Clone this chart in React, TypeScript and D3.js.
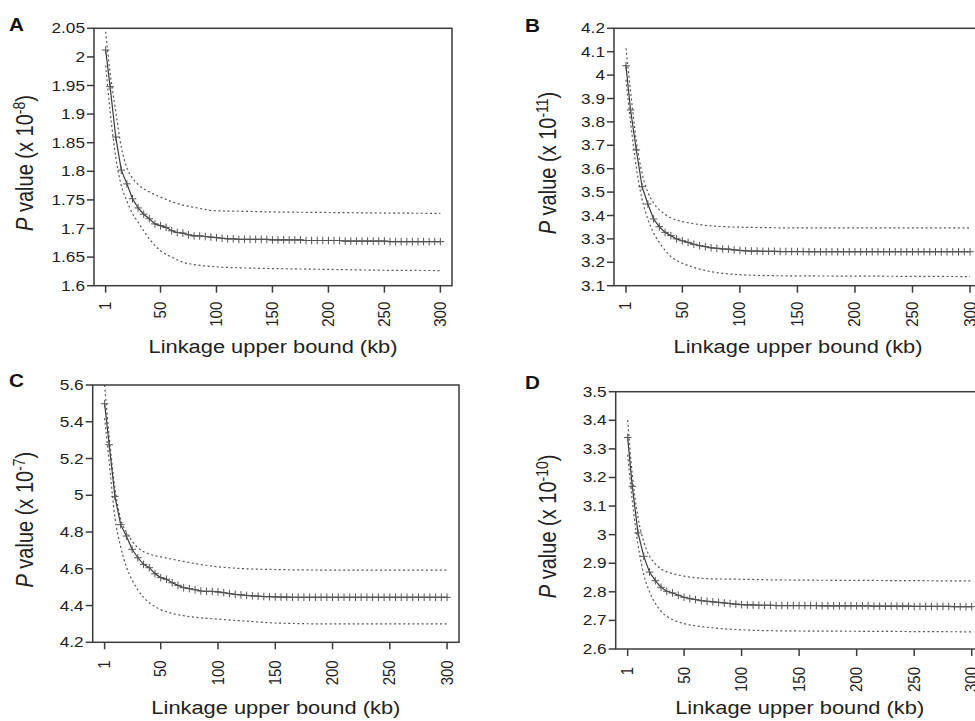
import React from "react";
import * as d3 from "d3";

// ---------- data ----------
const KB = [1, 5, 10, 15, 20, 25, 30, 35, 40, 45, 50, 55, 60, 65, 70, 75, 80, 85, 90, 95,
  100, 105, 110, 115, 120, 125, 130, 135, 140, 145, 150, 155, 160, 165, 170, 175, 180, 185, 190, 195,
  200, 205, 210, 215, 220, 225, 230, 235, 240, 245, 250, 255, 260, 265, 270, 275, 280, 285, 290, 295, 300];
const BAND_KB = [1, 5, 10, 15, 20, 25, 30, 40, 50, 60, 70, 80, 100, 125, 150, 200, 250, 300];
const X_TICKS = [1, 50, 100, 150, 200, 250, 300];

const A_MAIN = [2.012, 1.948, 1.860, 1.802, 1.778, 1.752, 1.736, 1.725, 1.717, 1.708,
  1.705, 1.702, 1.696, 1.693, 1.692, 1.689, 1.687, 1.687, 1.686, 1.685,
  1.684, 1.683, 1.682, 1.682, 1.681, 1.681, 1.681, 1.681, 1.681, 1.681,
  1.680, 1.680, 1.680, 1.680, 1.680, 1.680, 1.679, 1.679, 1.679, 1.679,
  1.679, 1.679, 1.679, 1.678, 1.678, 1.678, 1.678, 1.678, 1.678, 1.678,
  1.678, 1.677, 1.677, 1.677, 1.677, 1.677, 1.677, 1.677, 1.677, 1.677, 1.677];
const A_UPPER = [2.044, 1.972, 1.905, 1.842, 1.806, 1.788, 1.777, 1.764, 1.755, 1.747, 1.741, 1.737, 1.731, 1.730, 1.729, 1.728, 1.727, 1.7265];
const A_LOWER = [1.985, 1.905, 1.825, 1.775, 1.748, 1.726, 1.711, 1.682, 1.661, 1.650, 1.641, 1.637, 1.633, 1.631, 1.630, 1.6285, 1.627, 1.6265];
const A_Y_TICKS = [1.6, 1.65, 1.7, 1.75, 1.8, 1.85, 1.9, 1.95, 2, 2.05];

const B_MAIN = [4.040, 3.851, 3.680, 3.523, 3.449, 3.385, 3.352, 3.328, 3.314, 3.300,
  3.292, 3.285, 3.277, 3.271, 3.267, 3.262, 3.260, 3.257, 3.256, 3.253,
  3.251, 3.249, 3.248, 3.248, 3.247, 3.247, 3.247, 3.246, 3.246, 3.246,
  3.246, 3.246, 3.245, 3.245, 3.245, 3.245, 3.245, 3.245, 3.245, 3.245,
  3.245, 3.245, 3.245, 3.245, 3.245, 3.245, 3.245, 3.245, 3.245, 3.245,
  3.245, 3.245, 3.245, 3.245, 3.245, 3.245, 3.245, 3.245, 3.245, 3.245, 3.245];
const B_UPPER = [4.115, 3.930, 3.720, 3.580, 3.500, 3.453, 3.425, 3.390, 3.374, 3.365, 3.358, 3.354, 3.350, 3.348, 3.347, 3.347, 3.347, 3.347];
const B_LOWER = [3.980, 3.800, 3.605, 3.470, 3.385, 3.325, 3.285, 3.225, 3.196, 3.178, 3.165, 3.156, 3.147, 3.143, 3.142, 3.141, 3.140, 3.139];
const B_Y_TICKS = [3.1, 3.2, 3.3, 3.4, 3.5, 3.6, 3.7, 3.8, 3.9, 4, 4.1, 4.2];

const C_MAIN = [5.498, 5.275, 4.994, 4.840, 4.778, 4.706, 4.660, 4.624, 4.606, 4.573,
  4.552, 4.543, 4.524, 4.510, 4.497, 4.492, 4.486, 4.479, 4.477, 4.477,
  4.474, 4.470, 4.465, 4.461, 4.458, 4.455, 4.453, 4.451, 4.449, 4.448,
  4.447, 4.446, 4.446, 4.445, 4.445, 4.445, 4.445, 4.445, 4.445, 4.445,
  4.445, 4.445, 4.445, 4.445, 4.445, 4.445, 4.445, 4.445, 4.445, 4.445,
  4.445, 4.445, 4.445, 4.445, 4.445, 4.445, 4.445, 4.445, 4.445, 4.445, 4.445];
const C_UPPER = [5.600, 5.320, 5.040, 4.870, 4.800, 4.750, 4.715, 4.680, 4.665, 4.652, 4.640, 4.628, 4.611, 4.600, 4.596, 4.593, 4.593, 4.593];
const C_LOWER = [5.420, 5.180, 4.880, 4.720, 4.610, 4.540, 4.485, 4.415, 4.378, 4.357, 4.345, 4.336, 4.326, 4.315, 4.305, 4.300, 4.300, 4.300];
const C_Y_TICKS = [4.2, 4.4, 4.6, 4.8, 5, 5.2, 5.4, 5.6];

const D_MAIN = [3.340, 3.169, 3.006, 2.924, 2.869, 2.839, 2.816, 2.802, 2.796, 2.788,
  2.781, 2.776, 2.773, 2.769, 2.767, 2.765, 2.763, 2.761, 2.759, 2.757,
  2.755, 2.754, 2.754, 2.753, 2.753, 2.753, 2.752, 2.752, 2.752, 2.752,
  2.752, 2.752, 2.752, 2.752, 2.751, 2.751, 2.751, 2.751, 2.751, 2.751,
  2.751, 2.751, 2.751, 2.750, 2.750, 2.750, 2.750, 2.750, 2.750, 2.750,
  2.749, 2.749, 2.749, 2.749, 2.749, 2.749, 2.749, 2.748, 2.748, 2.748, 2.748];
const D_UPPER = [3.401, 3.210, 3.060, 2.975, 2.925, 2.898, 2.880, 2.864, 2.855, 2.849, 2.846, 2.845, 2.844, 2.842, 2.841, 2.840, 2.839, 2.838];
const D_LOWER = [3.280, 3.120, 2.965, 2.860, 2.800, 2.760, 2.732, 2.703, 2.689, 2.681, 2.676, 2.672, 2.667, 2.664, 2.663, 2.662, 2.661, 2.660];
const D_Y_TICKS = [2.6, 2.7, 2.8, 2.9, 3, 3.1, 3.2, 3.3, 3.4, 3.5];

const PANEL_LETTERS = ["A", "B", "C", "D"];
const EXPONENTS = ["-8", "-11", "-7", "-10"];
const X_TITLE = "Linkage upper bound (kb)";

// ---------- layout / style ----------
const W = 975;
const H = 721;
const PAD = 10.4;
const FONT = "'Liberation Sans', Arial, Helvetica, sans-serif";
const SX = 1.15;
const AXIS = "#3c3c3c";

const LAYOUT = [
  { left: 94, top: 28.3, width: 358, height: 257.4, letterX: 9, letterY: 31, titleY: 353, tickLabelY: 16, yTitleX: 33 },
  { left: 614, top: 28.3, width: 368, height: 257.4, letterX: 525, letterY: 32, titleY: 353, tickLabelY: 16, yTitleX: 556 },
  { left: 92.7, top: 385, width: 366.3, height: 257.3, letterX: 9, letterY: 387, titleY: 714, tickLabelY: 18, yTitleX: 33 },
  { left: 615.7, top: 391.7, width: 368, height: 257.3, letterX: 525, letterY: 389, titleY: 714, tickLabelY: 18, yTitleX: 556 },
];

const SERIES = [
  { main: A_MAIN, upper: A_UPPER, lower: A_LOWER, ticks: A_Y_TICKS },
  { main: B_MAIN, upper: B_UPPER, lower: B_LOWER, ticks: B_Y_TICKS },
  { main: C_MAIN, upper: C_UPPER, lower: C_LOWER, ticks: C_Y_TICKS },
  { main: D_MAIN, upper: D_UPPER, lower: D_LOWER, ticks: D_Y_TICKS },
];

function Panel({ i }: { i: number }) {
  const L = LAYOUT[i];
  const S = SERIES[i];
  const x = d3.scaleLinear().domain([1 - PAD, 300 + PAD]).range([L.left, L.left + L.width]);
  const y = d3
    .scaleLinear()
    .domain([S.ticks[0], S.ticks[S.ticks.length - 1]])
    .range([L.top + L.height, L.top]);
  const bottom = L.top + L.height;

  const mainLine = d3
    .line<number>()
    .x((_, k) => x(KB[k]))
    .y((d) => y(d));
  const bandLine = d3
    .line<number>()
    .x((_, k) => x(BAND_KB[k]))
    .y((d) => y(d))
    .curve(d3.curveMonotoneX);

  const tickFont = 15;
  const titleFont = 19;
  const cx = (x(1) + x(300)) / 2;

  return (
    <g>
      {/* panel letter */}
      <text
        transform={`translate(${L.letterX},${L.letterY}) scale(${SX},1)`}
        fontFamily={FONT}
        fontWeight="bold"
        fontSize={18}
        fill="#111"
      >
        {PANEL_LETTERS[i]}
      </text>

      {/* bands */}
      <path d={bandLine(S.upper) || ""} fill="none" stroke="#555" strokeWidth={1.2} strokeDasharray="2,2.6" />
      <path d={bandLine(S.lower) || ""} fill="none" stroke="#555" strokeWidth={1.2} strokeDasharray="2,2.6" />

      {/* main series */}
      <path d={mainLine(S.main) || ""} fill="none" stroke="#3a3a3a" strokeWidth={1.2} />
      {S.main.map((v, k) => (
        <path
          key={k}
          d={`M${x(KB[k]) - 3.8},${y(v)}H${x(KB[k]) + 3.8}M${x(KB[k])},${y(v) - 3.8}V${y(v) + 3.8}`}
          stroke="#555"
          strokeWidth={1}
          fill="none"
        />
      ))}

      {/* box */}
      <rect x={L.left} y={L.top} width={L.width} height={L.height} fill="none" stroke={AXIS} strokeWidth={1.5} />

      {/* y axis ticks */}
      {S.ticks.map((t) => (
        <g key={t}>
          <line x1={L.left - 7} x2={L.left} y1={y(t)} y2={y(t)} stroke={AXIS} strokeWidth={1.5} />
          <text
            transform={`translate(${L.left - 9},${y(t) + 5}) scale(${SX},1)`}
            textAnchor="end"
            fontFamily={FONT}
            fontSize={tickFont}
            fill="#222"
          >
            {String(t)}
          </text>
        </g>
      ))}

      {/* x axis ticks */}
      {X_TICKS.map((t) => (
        <g key={t}>
          <line x1={x(t)} x2={x(t)} y1={bottom} y2={bottom + 7} stroke={AXIS} strokeWidth={1.5} />
          <text
            transform={`translate(${x(t) + 5.5},${bottom + L.tickLabelY}) scale(${SX},1) rotate(-90)`}
            textAnchor="end"
            fontFamily={FONT}
            fontSize={tickFont}
            fill="#222"
          >
            {String(t)}
          </text>
        </g>
      ))}

      {/* x title */}
      <text
        transform={`translate(${cx},${L.titleY}) scale(${SX},1)`}
        textAnchor="middle"
        fontFamily={FONT}
        fontSize={titleFont}
        fill="#222"
      >
        {X_TITLE}
      </text>

      {/* y title */}
      <text
        transform={`translate(${L.yTitleX},${L.top + L.height / 2 + 6}) scale(${SX},1) rotate(-90)`}
        textAnchor="middle"
        fontFamily={FONT}
        fontSize={20}
        fill="#222"
      >
        <tspan fontStyle="italic">P</tspan>
        <tspan> value (x 10</tspan>
        <tspan dy={-7} fontSize={14}>
          {EXPONENTS[i]}
        </tspan>
        <tspan dy={7}>)</tspan>
      </text>
    </g>
  );
}

export default function App() {
  return (
    <svg
      width={W}
      height={H}
      viewBox={`0 0 ${W} ${H}`}
      style={{ position: "absolute", left: 0, top: 0, background: "#fff", display: "block" }}
    >
      <rect width={W} height={H} fill="#fff" />
      {[0, 1, 2, 3].map((i) => (
        <Panel key={i} i={i} />
      ))}
    </svg>
  );
}
